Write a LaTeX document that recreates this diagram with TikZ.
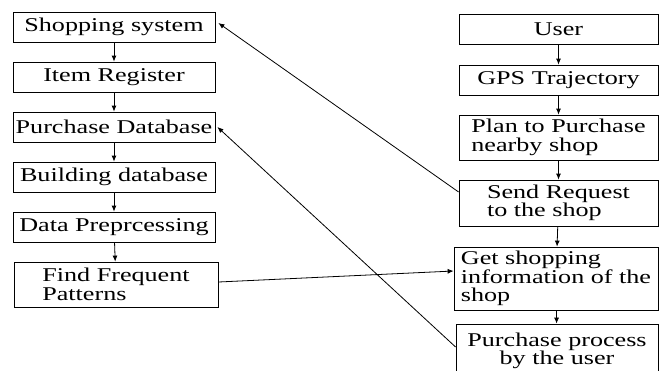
\documentclass[tikz,border=0pt]{standalone}
\usepackage{fontspec}
\setmainfont{Liberation Serif}[FakeStretch=1.34]
\usetikzlibrary{arrows.meta}

\tikzset{
	stepbox/.style={draw, line width=0.8pt, align=left, inner sep=2pt, minimum height=30pt,
		font=\fontsize{19.5}{18.5}\selectfont},
	flow/.style={-{Latex[length=6pt,width=5pt]}, line width=0.8pt}
}

\begin{document}
\begin{tikzpicture}[x=1pt,y=1pt]
	\useasboundingbox (0,0) rectangle (660,-370);
	% shopping side
	\node [stepbox, minimum width=202] (shop) at (114,-27) {Shopping system};
	\node [stepbox, minimum width=202] (item) at (114,-77) {Item Register};
	\node [stepbox, minimum width=202] (purch) at (114,-127) {Purchase Database};
	\node [stepbox, minimum width=202] (build) at (114,-177) {Building database};
	\node [stepbox, minimum width=202] (prep) at (114,-227) {Data Preprcessing};
	\node [stepbox, minimum width=204, minimum height=45] (freq) at (116,-284.5) {Find Frequent\\Patterns};
	% user side
	\node [stepbox, minimum width=199] (user) at (558.5,-29) {User};
	\node [stepbox, minimum width=199] (gps) at (558.5,-80) {GPS Trajectory};
	\node [stepbox, minimum width=199, minimum height=45] (plan) at (558.5,-137.5) {Plan to Purchase\\nearby shop};
	\node [stepbox, minimum width=199, minimum height=46] (req) at (558.5,-203) {Send Request\\to the shop};
	\node [stepbox, minimum width=204, minimum height=63] (info) at (556,-278.5) {Get shopping\\information of the\\shop};
	\node [stepbox, minimum width=202, minimum height=54, align=center] (proc) at (557,-351) {Purchase process\\by the user};

	\foreach \a/\b in {shop/item, item/purch, purch/build, build/prep, prep/freq,
		user/gps, gps/plan, plan/req, req/info, info/proc}
		\draw [flow] (\a) -- (\b);

	\draw [flow] ([yshift=11pt]req.west) -- ([xshift=3pt,yshift=4pt]shop.east);
	\draw [flow] ([yshift=4pt]proc.west) -- ([xshift=2pt]purch.east);
	\draw [flow] ([yshift=2.5pt]freq.east) -- ([yshift=7.5pt]info.west);
\end{tikzpicture}
\end{document}
